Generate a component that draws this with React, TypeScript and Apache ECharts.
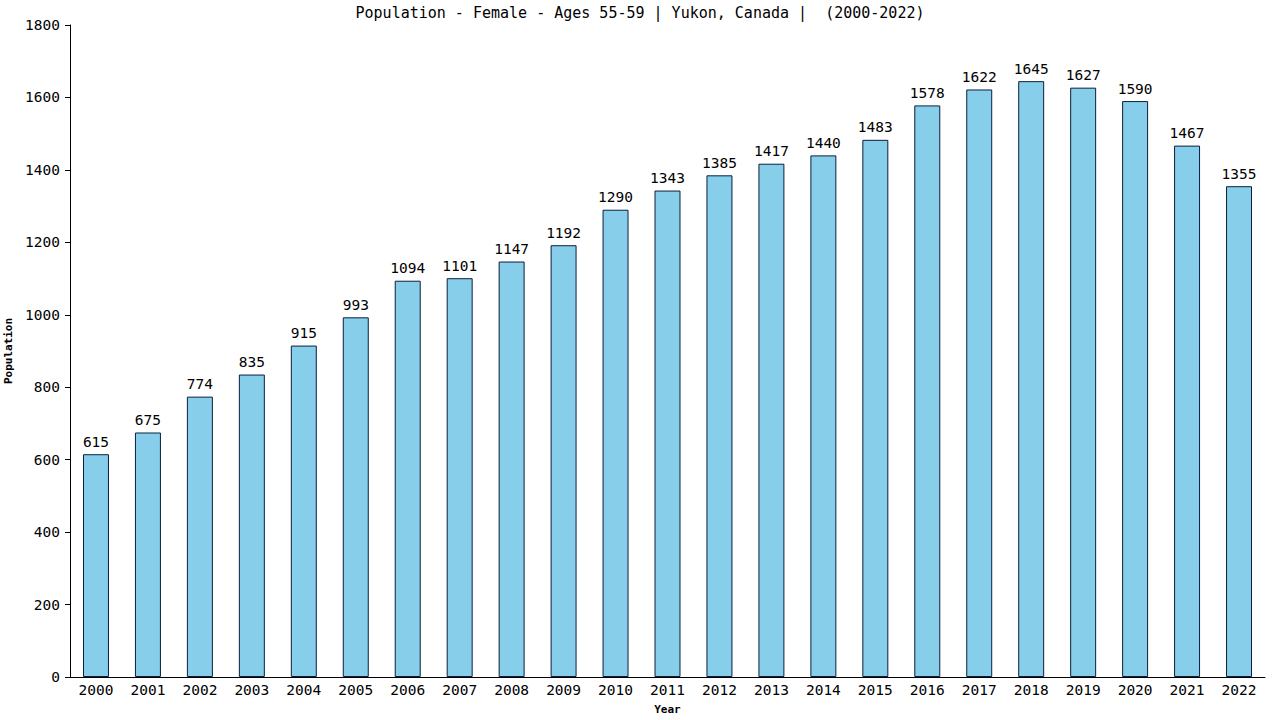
import React, { useEffect, useRef } from 'react';
import * as echarts from 'echarts';

const years = [
  '2000', '2001', '2002', '2003', '2004', '2005', '2006', '2007', '2008', '2009', '2010', '2011',
  '2012', '2013', '2014', '2015', '2016', '2017', '2018', '2019', '2020', '2021', '2022'
];
const population = [
  615, 675, 774, 835, 915, 993, 1094, 1101, 1147, 1192, 1290, 1343,
  1385, 1417, 1440, 1483, 1578, 1622, 1645, 1627, 1590, 1467, 1355
];

const FONT = '"DejaVu Sans Mono", monospace';

const App: React.FC = () => {
  const chartRef = useRef<HTMLDivElement>(null);

  useEffect(() => {
    if (!chartRef.current) return;
    const chart = echarts.init(chartRef.current, null, { renderer: 'svg' });

    chart.setOption({
      animation: false,
      backgroundColor: '#ffffff',
      title: {
        text: 'Population - Female - Ages 55-59 | Yukon, Canada |  (2000-2022)',
        left: 'center',
        top: 0,
        textStyle: { fontFamily: FONT, fontSize: 15, fontWeight: 'normal', color: '#000' }
      },
      grid: { left: 70, right: 15, top: 25, bottom: 43, outerBoundsMode: 'none', containLabel: false },
      xAxis: {
        type: 'category',
        data: years,
        name: 'Year',
        nameLocation: 'middle',
        nameGap: 27,
        nameTextStyle: { fontFamily: FONT, fontSize: 11, fontWeight: 'bold', color: '#000' },
        axisLine: { lineStyle: { color: '#000', width: 1 } },
        axisTick: { show: false },
        axisLabel: { fontFamily: FONT, fontSize: 14.5, color: '#000', margin: 5, interval: 0 }
      },
      yAxis: {
        type: 'value',
        min: 0,
        max: 1800,
        interval: 200,
        name: 'Population',
        nameLocation: 'middle',
        nameGap: 52,
        nameTextStyle: { fontFamily: FONT, fontSize: 11, fontWeight: 'bold', color: '#000' },
        axisLine: { show: true, lineStyle: { color: '#000', width: 1 } },
        axisTick: { show: true, length: 5, lineStyle: { color: '#000' } },
        axisLabel: {
          fontFamily: FONT,
          fontSize: 14.5,
          color: '#000',
          margin: 10,
          formatter: (v: number) => String(v)
        },
        splitLine: { show: false }
      },
      series: [
        {
          type: 'bar',
          data: population,
          barWidth: '50%',
          itemStyle: { color: '#87ceeb', borderColor: '#0a1e3c', borderWidth: 1 },
          label: {
            show: true,
            position: 'top',
            distance: 5,
            fontFamily: FONT,
            fontSize: 14.5,
            color: '#000'
          }
        }
      ]
    });

    return () => {
      chart.dispose();
    };
  }, []);

  return (
    <div
      ref={chartRef}
      style={{ position: 'absolute', left: 0, top: 0, width: 1280, height: 720, background: '#fff' }}
    />
  );
};

export default App;
